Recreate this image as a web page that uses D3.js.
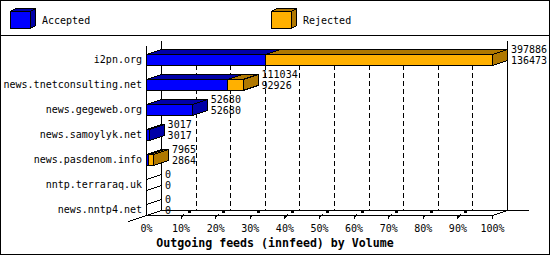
<!doctype html>
<html>
<head>
<meta charset="utf-8"/>
<title>Outgoing feeds (innfeed) by Volume</title>
<script src="https://d3js.org/d3.v7.min.js"></script>
<style>
body { margin: 0; background: #fff; }
text { font-family: "DejaVu Sans Mono", monospace; fill: #000; }
</style>
</head>
<body>
<script type="text/javascript">
// data
var categories = ["i2pn.org", "news.tnetconsulting.net", "news.gegeweb.org",
  "news.samoylyk.net", "news.pasdenom.info", "nntp.terraraq.uk", "news.nntp4.net"];
var accepted = [136473, 92926, 52680, 3017, 2864, 0, 0];
var rejected = [261413, 18108, 0, 0, 5101, 0, 0];
var tickPct = [0, 10, 20, 30, 40, 50, 60, 70, 80, 90, 100];
var legendNames = ["Accepted", "Rejected"];
var legendX = [10, 271];

var colors = ["#0000ff", "#ffb000"];
var darks = ["#0000a8", "#b07800"];

var totals = accepted.map(function(d, i) { return d + rejected[i]; });

var W = 550, H = 255;
var dx = 15, dy = 5;      // depth of the 3d look
var barH = 11;

var svg = d3.select("body").append("svg")
  .attr("width", W).attr("height", H);

var g = svg.append("g").attr("transform", "translate(0.5,0.5)")
  .attr("shape-rendering", "crispEdges");

var x = d3.scaleLinear().domain([0, d3.max(totals)]).range([146, 492]);
var pct = d3.scaleLinear().domain([0, 100]).range([146, 492]);
var y = d3.scaleBand().domain(categories).range([47, 222]);
function yc(c) { return y(c) + y.bandwidth() / 2; }

// frame and legend strip
g.append("rect").attr("x", 0).attr("y", 0).attr("width", W - 1).attr("height", H - 1)
  .attr("fill", "none").attr("stroke", "#000");
g.append("line").attr("x1", 0).attr("x2", W - 1).attr("y1", 35).attr("y2", 35).attr("stroke", "#000");

legendNames.forEach(function(n, i) {
  var lx = legendX[i];
  g.append("polygon")
    .attr("points", [[lx, 11], [lx + 5, 8], [lx + 25, 8], [lx + 20, 11]].join(" "))
    .attr("fill", darks[i]).attr("stroke", "#000");
  g.append("polygon")
    .attr("points", [[lx + 20, 11], [lx + 25, 8], [lx + 25, 25], [lx + 20, 28]].join(" "))
    .attr("fill", darks[i]).attr("stroke", "#000");
  g.append("rect").attr("x", lx).attr("y", 11).attr("width", 20).attr("height", 17)
    .attr("fill", colors[i]).attr("stroke", "#000");
  svg.append("text").attr("x", lx + 32).attr("y", 23.5)
    .attr("font-size", "10px").text(n);
});

// back wall grid
var yTopBack = 40, yBotBack = 210, yTopFront = 45, yBotFront = 215;
g.selectAll(".grid").data(tickPct.slice(1, -1)).enter().append("line")
  .attr("x1", function(d) { return pct(d) + dx; })
  .attr("x2", function(d) { return pct(d) + dx; })
  .attr("y1", 48).attr("y2", yBotBack)
  .attr("stroke", "#000").attr("stroke-dasharray", "5,3");

g.append("line").attr("x1", pct(0) + dx).attr("x2", pct(0) + dx)
  .attr("y1", yTopBack).attr("y2", yBotBack).attr("stroke", "#000");
g.append("line").attr("x1", pct(100) + dx).attr("x2", pct(100) + dx)
  .attr("y1", yTopBack).attr("y2", yBotBack).attr("stroke", "#000");
g.append("line").attr("x1", pct(0) + dx).attr("x2", 528)
  .attr("y1", yBotBack).attr("y2", yBotBack).attr("stroke", "#000");
g.append("line").attr("x1", pct(0)).attr("x2", pct(100))
  .attr("y1", yBotFront).attr("y2", yBotFront).attr("stroke", "#000");
g.append("line").attr("x1", pct(100)).attr("x2", pct(100) + dx)
  .attr("y1", yBotFront).attr("y2", yBotBack).attr("stroke", "#000");
g.append("line").attr("x1", pct(0) - 18).attr("x2", pct(0) + dx)
  .attr("y1", yBotFront + 6).attr("y2", yBotBack).attr("stroke", "#000");
g.append("line").attr("x1", pct(0)).attr("x2", pct(0))
  .attr("y1", yTopFront).attr("y2", yBotFront).attr("stroke", "#000");

// 3d ticks on the floor
tickPct.slice(1, -1).forEach(function(d) {
  var tx = pct(d);
  g.append("path")
    .attr("d", "M" + tx + "," + (yBotFront + 3) + "V" + yBotFront + "M" + tx + "," + (yBotFront + 2) + "L" + (tx + 3) + "," + (yBotFront - 1))
    .attr("fill", "none").attr("stroke", "#000");
  g.append("rect").attr("x", tx + 7).attr("y", yBotBack).attr("width", 2).attr("height", 2)
    .attr("fill", "#000").attr("stroke", "#000");
});
g.append("line").attr("x1", pct(100)).attr("x2", pct(100))
  .attr("y1", yBotFront).attr("y2", yBotFront + 3).attr("stroke", "#000");

// bars
categories.forEach(function(c, i) {
  var top = yc(c) - barH / 2, bot = top + barH;
  var segs = [[0, accepted[i], 0], [accepted[i], totals[i], 1]]
    .filter(function(s) { return s[1] > s[0]; });
  if (segs.length === 0) {
    var x0 = x(0);
    g.append("polygon")
      .attr("points", [[x0, top], [x0 + dx, top - dy], [x0 + dx, bot - dy], [x0, bot]].join(" "))
      .attr("fill", "none").attr("stroke", "#000");
    return;
  }
  segs.forEach(function(s, k) {
    var xs = x(s[0]), xe = x(s[1]);
    g.append("polygon")
      .attr("points", [[xs, top], [xs + dx, top - dy], [xe + dx, top - dy], [xe, top]].join(" "))
      .attr("fill", darks[s[2]]).attr("stroke", "#000");
    if (k === segs.length - 1) {
      g.append("polygon")
        .attr("points", [[xe, top], [xe + dx, top - dy], [xe + dx, bot - dy], [xe, bot]].join(" "))
        .attr("fill", darks[s[2]]).attr("stroke", "#000");
    }
    g.append("rect").attr("x", xs).attr("y", top).attr("width", xe - xs).attr("height", barH)
      .attr("fill", colors[s[2]]).attr("stroke", "#000");
  });
});

// value labels
categories.forEach(function(c, i) {
  var lx = x(totals[i]) + dx + 4;
  var cy = yc(c) - dy;
  svg.append("text").attr("x", lx).attr("y", cy - 1.5).attr("font-size", "10px").text(totals[i]);
  svg.append("text").attr("x", lx).attr("y", cy + 9).attr("font-size", "10px").text(accepted[i]);
});

// axes
var yAxis = svg.append("g").attr("transform", "translate(142,0)")
  .call(d3.axisLeft(y).tickSize(0).tickPadding(0));
yAxis.select(".domain").remove();
yAxis.selectAll("text").attr("font-size", "10px").attr("font-family", "DejaVu Sans Mono");

var xAxis = svg.append("g").attr("transform", "translate(0,225)")
  .call(d3.axisBottom(pct).tickValues(tickPct).tickSize(0).tickPadding(0)
    .tickFormat(function(d) { return d + "%"; }));
xAxis.select(".domain").remove();
xAxis.selectAll("text").attr("font-size", "10px").attr("font-family", "DejaVu Sans Mono");

svg.append("text").attr("x", 275).attr("y", 246.5).attr("text-anchor", "middle")
  .attr("font-size", "11.6px").attr("font-weight", "bold")
  .text("Outgoing feeds (innfeed) by Volume");
</script>
</body>
</html>
